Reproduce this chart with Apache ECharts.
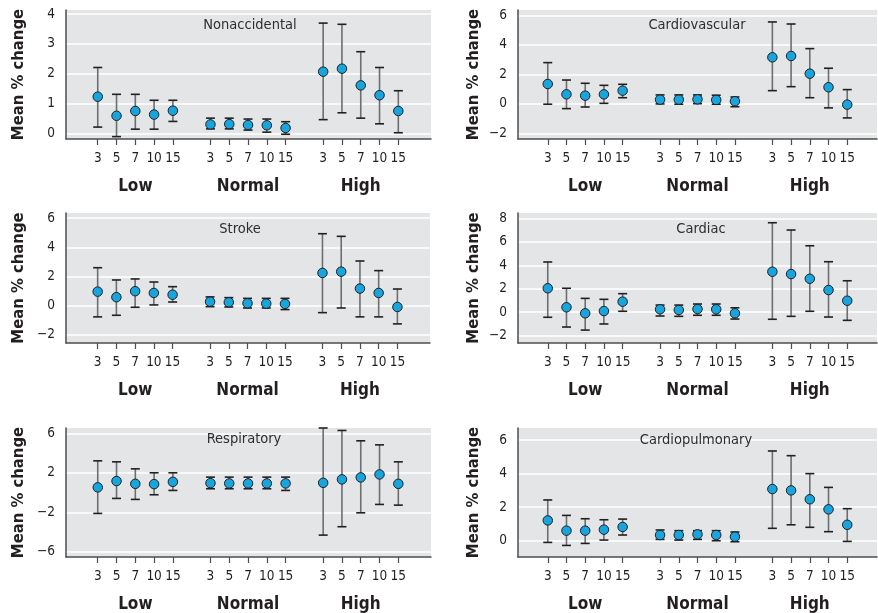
<!DOCTYPE html>
<html><head><meta charset="utf-8">
<script src="https://cdn.jsdelivr.net/npm/echarts@6/dist/echarts.min.js"></script>
<style>html,body{margin:0;padding:0;background:#fff}#c{width:878px;height:613px}</style>
</head><body><div id="c"></div>
<script>
// ---- data ----
const lags = ['3','5','7','10','15'];
const groups = ['Low','Normal','High'];
const panelTitles = ['Nonaccidental','Cardiovascular','Stroke','Cardiac','Respiratory','Cardiopulmonary'];

const nonaccidentalMean  = [1.23,0.59,0.75,0.63,0.76, 0.30,0.31,0.28,0.27,0.18, 2.07,2.17,1.61,1.28,0.75];
const nonaccidentalLower = [0.21,-0.11,0.14,0.14,0.40, 0.15,0.15,0.11,0.04,-0.03, 0.46,0.69,0.51,0.32,0.02];
const nonaccidentalUpper = [2.21,1.31,1.31,1.11,1.11, 0.51,0.51,0.48,0.48,0.39, 3.70,3.66,2.74,2.21,1.43];

const cardiovascularMean  = [1.34,0.64,0.55,0.64,0.89, 0.28,0.28,0.30,0.26,0.17, 3.15,3.24,2.04,1.12,-0.06];
const cardiovascularLower = [-0.03,-0.33,-0.22,0.03,0.41, -0.01,-0.03,0.01,-0.03,-0.20, 0.89,1.16,0.41,-0.28,-0.96];
const cardiovascularUpper = [2.79,1.61,1.39,1.25,1.32, 0.60,0.60,0.60,0.58,0.46, 5.55,5.41,3.74,2.41,0.96];

const strokeMean  = [0.96,0.58,0.99,0.87,0.75, 0.27,0.23,0.16,0.14,0.12, 2.24,2.33,1.17,0.87,-0.09];
const strokeLower = [-0.77,-0.66,-0.11,0.05,0.25, -0.07,-0.09,-0.16,-0.16,-0.27, -0.48,-0.16,-0.77,-0.77,-1.25];
const strokeUpper = [2.60,1.76,1.83,1.62,1.30, 0.60,0.55,0.50,0.50,0.50, 4.93,4.75,3.06,2.40,1.14];

const cardiacMean  = [2.04,0.42,-0.09,0.10,0.90, 0.25,0.19,0.27,0.25,-0.09, 3.45,3.25,2.85,1.89,0.98];
const cardiacLower = [-0.43,-1.26,-1.52,-1.00,0.08, -0.32,-0.35,-0.26,-0.26,-0.58, -0.60,-0.35,0.08,-0.41,-0.69];
const cardiacUpper = [4.28,2.04,1.18,1.10,1.58, 0.61,0.61,0.70,0.70,0.38, 7.62,7.00,5.66,4.30,2.68];

const respiratoryMean  = [0.53,1.17,0.89,0.86,1.09, 0.96,0.93,0.93,0.93,0.93, 0.99,1.34,1.54,1.84,0.89];
const respiratoryLower = [-2.11,-0.59,-0.69,-0.22,0.22, 0.39,0.39,0.39,0.39,0.22, -4.31,-3.46,-2.05,-1.20,-1.27];
const respiratoryUpper = [3.22,3.12,2.41,2.01,2.01, 1.57,1.57,1.57,1.57,1.57, 6.55,6.30,5.25,4.84,3.12];

const cardiopulmonaryMean  = [1.21,0.60,0.60,0.66,0.82, 0.34,0.34,0.38,0.34,0.24, 3.08,3.00,2.47,1.87,0.95];
const cardiopulmonaryLower = [-0.10,-0.28,-0.16,0.04,0.34, 0.08,0.04,0.08,0.00,-0.06, 0.74,0.95,0.80,0.54,-0.04];
const cardiopulmonaryUpper = [2.43,1.51,1.31,1.25,1.29, 0.64,0.60,0.60,0.60,0.52, 5.35,5.07,4.00,3.18,1.91];

const yTicksNonaccidental   = [0,1,2,3,4];
const yTicksCardiovascular  = [-2,0,2,4,6];
const yTicksStroke          = [-2,0,2,4,6];
const yTicksCardiac         = [-2,0,2,4,6,8];
const yTicksRespiratory     = [-6,-2,2,6];
const yTicksCardiopulmonary = [0,2,4,6];

// ---- layout (positions/styles) ----
const panels = [
  {mean:nonaccidentalMean, lo:nonaccidentalLower, hi:nonaccidentalUpper, ticks:yTicksNonaccidental,
   grid:{left:66,top:10,width:365,height:129}, ymin:-0.19, ymax:4.14, xmin:-1.69, xmax:17.74, nameGap:39, tx:250, ty:25},
  {mean:cardiovascularMean, lo:cardiovascularLower, hi:cardiovascularUpper, ticks:yTicksCardiovascular,
   grid:{left:518,top:10,width:359,height:129}, ymin:-2.39, ymax:6.36, xmin:-1.59, xmax:17.59, nameGap:36, tx:697, ty:25},
  {mean:strokeMean, lo:strokeLower, hi:strokeUpper, ticks:yTicksStroke,
   grid:{left:66,top:213,width:364,height:130}, ymin:-2.56, ymax:6.35, xmin:-1.69, xmax:17.74, nameGap:39, tx:240, ty:229},
  {mean:cardiacMean, lo:cardiacLower, hi:cardiacUpper, ticks:yTicksCardiac,
   grid:{left:518,top:213,width:359,height:130}, ymin:-2.62, ymax:8.45, xmin:-1.59, xmax:17.59, nameGap:36, tx:701, ty:229},
  {mean:respiratoryMean, lo:respiratoryLower, hi:respiratoryUpper, ticks:yTicksRespiratory,
   grid:{left:66,top:428,width:365,height:129}, ymin:-6.53, ymax:6.55, xmin:-1.69, xmax:17.74, nameGap:39, tx:244, ty:439},
  {mean:cardiopulmonaryMean, lo:cardiopulmonaryLower, hi:cardiopulmonaryUpper, ticks:yTicksCardiopulmonary,
   grid:{left:518,top:428,width:359,height:129}, ymin:-0.97, ymax:6.72, xmin:-1.59, xmax:17.59, nameGap:36, tx:696, ty:440}
];

const step = lags.length + 1;
const slots = [];
groups.forEach((g, gi) => lags.forEach((l, li) => slots.push(gi * step + li)));
const groupCenters = groups.map((g, gi) => gi * step + (lags.length - 1) / 2);

const ink = '#231f20';
const axisCol = '#4d4d4f';
const condensed = '"DejaVu Sans Condensed", "Liberation Sans", sans-serif';
const fmtNum = v => v < 0 ? '\u2212' + Math.abs(v) : String(v);

function renderErr(params, api) {
  const x = api.value(0), lo = api.value(1), hi = api.value(2);
  const a = api.coord([x, lo]), b = api.coord([x, hi]);
  const hw = 4.5;
  return {type:'group', children:[
    {type:'line', shape:{x1:a[0],y1:a[1],x2:b[0],y2:b[1]}, style:{stroke:'#6d6e71', lineWidth:1.6}},
    {type:'line', shape:{x1:b[0]-hw,y1:b[1],x2:b[0]+hw,y2:b[1]}, style:{stroke:ink, lineWidth:1.6}},
    {type:'line', shape:{x1:a[0]-hw,y1:a[1],x2:a[0]+hw,y2:a[1]}, style:{stroke:ink, lineWidth:1.6}}
  ]};
}

const option = {animation:false, grid:[], xAxis:[], yAxis:[], series:[], title:[]};
panels.forEach((p, k) => {
  option.grid.push(Object.assign({show:true, backgroundColor:'#e4e5e7', borderWidth:0}, p.grid));
  option.title.push({text:panelTitles[k], left:p.tx, top:p.ty, padding:0, textAlign:'center', textVerticalAlign:'middle',
    textStyle:{fontFamily:condensed, fontSize:14.5, fontWeight:'normal', color:'#2f2d2e'}});
  option.xAxis.push({gridIndex:k, type:'value', min:p.xmin, max:p.xmax, position:'bottom',
    axisLine:{show:true, onZero:false, lineStyle:{color:axisCol, width:1.5}},
    axisTick:{show:true, customValues:slots, length:6, lineStyle:{color:axisCol, width:1.2}},
    axisLabel:{customValues:slots, formatter:v => lags[Math.round(v) % step], fontFamily:condensed, fontSize:13.5, color:ink, margin:12},
    splitLine:{show:false}});
  option.xAxis.push({gridIndex:k, type:'value', min:p.xmin, max:p.xmax, position:'bottom',
    axisLine:{show:false, onZero:false}, axisTick:{show:false, customValues:groupCenters},
    axisLabel:{customValues:groupCenters, formatter:v => groups[Math.round((v - (lags.length - 1) / 2) / step)],
      fontFamily:condensed, fontWeight:'bold', fontSize:17, color:ink, margin:39},
    splitLine:{show:false}});
  option.yAxis.push({gridIndex:k, type:'value', min:p.ymin, max:p.ymax,
    name:'Mean % change', nameLocation:'middle', nameGap:p.nameGap,
    nameTextStyle:{fontFamily:condensed, fontWeight:'bold', fontSize:16.5, color:ink},
    axisLine:{show:true, onZero:false, lineStyle:{color:axisCol, width:1.5}},
    axisTick:{show:false, customValues:p.ticks},
    axisLabel:{customValues:p.ticks, formatter:fmtNum, fontFamily:condensed, fontSize:13.5, color:ink, margin:11},
    splitLine:{show:true, lineStyle:{color:'#ffffff', width:1.5}}});
  option.series.push({type:'custom', xAxisIndex:2*k, yAxisIndex:k, renderItem:renderErr, clip:false,
    encode:{x:0, y:[1,2]}, data:slots.map((s, i) => [s, p.lo[i], p.hi[i]]), z:2});
  option.series.push({type:'scatter', xAxisIndex:2*k, yAxisIndex:k, symbol:'circle', symbolSize:9.5,
    itemStyle:{color:'#16a5de', borderColor:ink, borderWidth:1, opacity:1},
    data:slots.map((s, i) => [s, p.mean[i]]), z:3});
});

const chart = echarts.init(document.getElementById('c'), null, {renderer:'canvas'});
chart.setOption(option);
</script>
</body></html>
